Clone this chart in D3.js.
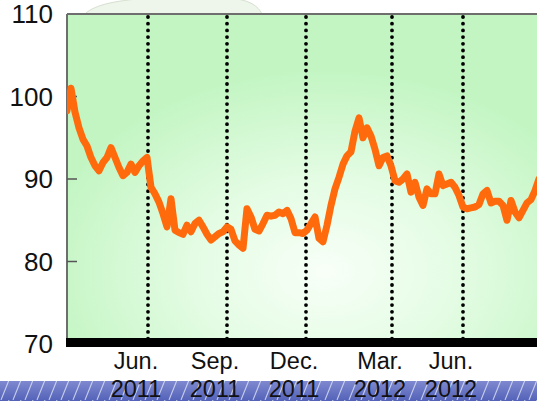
<!DOCTYPE html>
<html>
<head>
<meta charset="utf-8">
<script src="https://cdn.jsdelivr.net/npm/d3@7"></script>
<style>
  html, body { margin: 0; padding: 0; background: #fff; }
  svg { display: block; font-family: "Liberation Sans", Arial, sans-serif; }
</style>
</head>
<body>
<div id="chart"></div>
<script>
// Index level, one reading per sample step
const values = [
  98.3, 101.0, 98.1, 96.2, 94.8, 94.0, 92.6, 91.6, 91.0, 92.0,
  92.6, 93.8, 92.6, 91.4, 90.4, 90.8, 91.8, 90.8, 91.6, 92.2,
  92.6, 89.0, 88.2, 87.2, 85.8, 84.2, 87.6, 83.8, 83.5, 83.3,
  84.4, 83.6, 84.6, 85.0, 84.2, 83.3, 82.6, 83.0, 83.4, 83.6,
  84.2, 83.9, 82.5, 82.0, 81.6, 86.4, 85.4, 83.9, 83.7, 84.6,
  85.6, 85.5, 85.6, 86.0, 85.8, 86.2, 85.2, 83.5, 83.5, 83.4,
  83.8, 84.6, 85.4, 82.8, 82.4, 84.4, 86.8, 88.8, 90.2, 91.8,
  92.8, 93.3, 95.8, 97.4, 95.0, 96.2, 95.2, 93.6, 91.6, 92.6,
  92.8, 91.6, 89.8, 89.6, 90.0, 90.6, 88.4, 89.6, 87.8, 86.8,
  88.8, 88.2, 88.2, 90.6, 89.2, 89.4, 89.6, 89.0, 88.0, 86.6,
  86.4, 86.5, 86.6, 86.9, 88.2, 88.6, 87.1, 87.3, 87.3, 86.8,
  85.0, 87.4, 86.0, 85.3, 86.2, 87.1, 87.5, 88.6, 90.0
];

// Quarter boundaries (sample index) and their labels
const quarterAt = [20.25, 40, 59.75, 81.25, 99];
const quarterMonth = ["Jun.", "Sep.", "Dec.", "Mar.", "Jun."];
const quarterYear = ["2011", "2011", "2011", "2012", "2012"];

// Value axis
const yTicks = [70, 80, 90, 100, 110];
const yInnerTicks = [80, 90, 100];

const W = 537, H = 401;
const margin = { top: 14, left: 67, bottom: 57 };

const svg = d3.select("#chart").append("svg")
  .attr("width", W).attr("height", H);

const defs = svg.append("defs");

const bg = defs.append("radialGradient").attr("id", "plotBg")
  .attr("cx", "0.55").attr("cy", "0.78").attr("r", "0.62");
bg.append("stop").attr("offset", "0").attr("stop-color", "#f8fff8");
bg.append("stop").attr("offset", "0.45").attr("stop-color", "#e4fce4");
bg.append("stop").attr("offset", "1").attr("stop-color", "#c2f5c2");

const band = defs.append("linearGradient").attr("id", "bandFill")
  .attr("x1", 0).attr("y1", 0).attr("x2", 0).attr("y2", 1);
band.append("stop").attr("offset", "0").attr("stop-color", "#7f89d0");
band.append("stop").attr("offset", "1").attr("stop-color", "#5362b8");

const hatch = defs.append("pattern").attr("id", "hatch")
  .attr("patternUnits", "userSpaceOnUse")
  .attr("width", 12).attr("height", 20);
hatch.append("line")
  .attr("x1", 1).attr("y1", 20).attr("x2", 9).attr("y2", 0)
  .attr("stroke", "#dfe3f6").attr("stroke-width", 1.1).attr("stroke-opacity", 0.8);

defs.append("filter").attr("id", "soft")
  .append("feGaussianBlur").attr("stdDeviation", 0.5);

const clip = defs.append("clipPath").attr("id", "plotClip");

const x = d3.scaleLinear().domain([0, 117.5]).range([margin.left, W]);
const y = d3.scaleLinear().domain([70, 110]).range([344, margin.top]);

clip.append("rect")
  .attr("x", x(0)).attr("y", y(110))
  .attr("width", W - x(0)).attr("height", y(70) - y(110));

// decorative blob behind the heading
svg.append("path")
  .attr("d", "M85,14 C95,4 120,0 150,-2 L230,-2 C250,0 258,6 262,14 Z")
  .attr("fill", "#eef5ea").attr("stroke", "#d6dfd0").attr("stroke-width", 1);

// bottom ribbon
svg.append("rect").attr("x", 0).attr("y", 381).attr("width", W).attr("height", H - 381)
  .attr("fill", "url(#bandFill)");
svg.append("rect").attr("x", 0).attr("y", 381).attr("width", W).attr("height", H - 381)
  .attr("fill", "url(#hatch)");

// plot background
svg.append("rect")
  .attr("x", x(0)).attr("y", y(110))
  .attr("width", W - x(0)).attr("height", y(70) - y(110))
  .attr("fill", "url(#plotBg)");

// frame: top and left edges
svg.append("line")
  .attr("x1", x(0)).attr("x2", W).attr("y1", y(110)).attr("y2", y(110))
  .attr("stroke", "#6e6e6e").attr("stroke-width", 2);
svg.append("line")
  .attr("x1", x(0)).attr("x2", x(0)).attr("y1", y(110)).attr("y2", y(70))
  .attr("stroke", "#6e6e6e").attr("stroke-width", 2);

// inner tick marks on the value axis
svg.append("g").selectAll("line").data(yInnerTicks).join("line")
  .attr("x1", x(0)).attr("x2", x(0) + 10)
  .attr("y1", d => y(d)).attr("y2", d => y(d))
  .attr("stroke", "#555").attr("stroke-width", 1.5);

// value labels
svg.append("g").selectAll("text").data(yTicks).join("text")
  .attr("x", 53).attr("y", d => y(d))
  .attr("dy", "0.36em")
  .attr("text-anchor", "end")
  .attr("font-size", 26)
  .attr("fill", "#111")
  .text(d => d);

// quarter separators
svg.append("g").selectAll("line").data(quarterAt).join("line")
  .attr("x1", d => x(d)).attr("x2", d => x(d))
  .attr("y1", y(110) + 3).attr("y2", y(70) - 5)
  .attr("stroke", "#000").attr("stroke-width", 3.8)
  .attr("stroke-linecap", "round")
  .attr("stroke-dasharray", "0 6.7");

// series
const line = d3.line().x((d, i) => x(i)).y(d => y(d));
svg.append("g").attr("clip-path", "url(#plotClip)")
  .append("path")
  .datum(values)
  .attr("d", line)
  .attr("fill", "none")
  .attr("stroke", "#ff6a0a")
  .attr("stroke-width", 7)
  .attr("stroke-linejoin", "round")
  .attr("stroke-linecap", "round")
  .attr("filter", "url(#soft)");

// base axis bar
svg.append("rect")
  .attr("x", x(0) - 1).attr("y", y(70) - 6)
  .attr("width", W - x(0) + 1).attr("height", 9)
  .attr("fill", "#000");

// quarter labels
const lab = svg.append("g").selectAll("g").data(quarterAt).join("g")
  .attr("transform", d => `translate(${x(d) - 12},0)`);
lab.append("text")
  .attr("y", 369).attr("text-anchor", "middle")
  .attr("font-size", 23.5).attr("fill", "#111")
  .text((d, i) => quarterMonth[i]);
lab.append("text")
  .attr("y", 397).attr("text-anchor", "middle")
  .attr("font-size", 23.5).attr("fill", "#111")
  .text((d, i) => quarterYear[i]);
</script>
</body>
</html>
